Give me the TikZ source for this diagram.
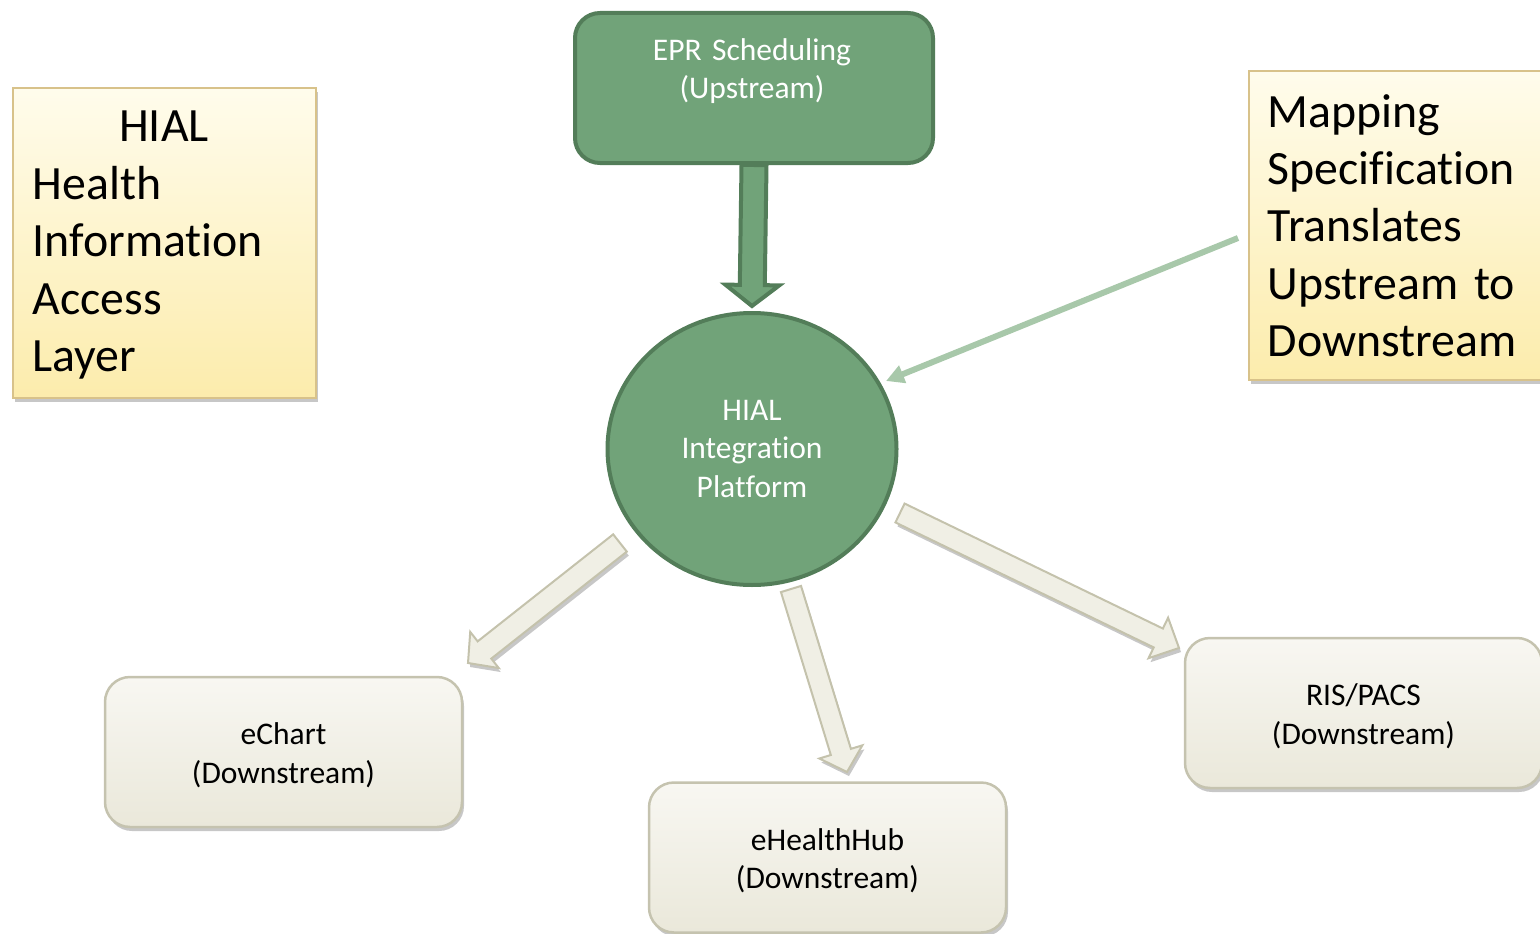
\documentclass[tikz,border=0pt]{standalone}
\usepackage{fontspec}
\setmainfont{Carlito}[Ligatures=NoCommon]
\usetikzlibrary{calc,shadows,arrows.meta,shapes.geometric}
\definecolor{hubfill}{RGB}{113,163,121}
\definecolor{hubline}{RGB}{83,125,89}
\definecolor{mapline}{RGB}{168,200,170}
\definecolor{dstop}{RGB}{248,247,242}
\definecolor{dsbot}{RGB}{234,232,218}
\definecolor{dsline}{RGB}{197,195,175}
\definecolor{notetop}{RGB}{255,252,236}
\definecolor{notebot}{RGB}{252,236,172}
\definecolor{noteline}{RGB}{216,194,138}
\definecolor{arrfill}{RGB}{240,239,229}
\definecolor{arrline}{RGB}{196,194,172}
\newcommand\myfatarrow[6]{%
  \coordinate (fah) at ($(#2)!#5!(#1)$);
  \draw[#6] ($(#1)!#3!90:(#2)$) -- ($(fah)!#3!90:(#2)$) -- ($(fah)!#4!90:(#2)$) -- (#2)
    -- ($(fah)!#4!-90:(#2)$) -- ($(fah)!#3!-90:(#2)$) -- ($(#1)!#3!-90:(#2)$) -- cycle;
}
\newcommand\toppad{\rule{0pt}{28pt}}
\tikzset{
  smallfont/.style={font=\fontsize{31.5}{38.5}\selectfont},
  bigfont/.style={font=\fontsize{47.8}{57.5}\selectfont},
  softshadow/.style={drop shadow={shadow xshift=2pt, shadow yshift=-4pt, fill=black, opacity=0.22}},
  dsbox/.style={draw=dsline, line width=2.5pt, rounded corners=25pt, top color=dstop, bottom color=dsbot,
    softshadow, minimum width=357pt, minimum height=150pt, inner sep=0pt, align=center, smallfont, text=black},
  notebox/.style={draw=noteline, line width=2pt, top color=notetop, bottom color=notebot, softshadow, inner sep=0pt},
  eprbox/.style={draw=hubline, line width=4pt, fill=hubfill, rounded corners=25pt, inner sep=0pt},
  hubnode/.style={ellipse, draw=hubline, line width=4pt, fill=hubfill, inner sep=0pt,
    minimum width=289pt, minimum height=272pt, align=center, smallfont, text=white},
  fatgreen/.style={draw=hubline, line width=4pt, fill=hubfill, line join=miter},
  fatlight/.style={draw=arrline, line width=2pt, fill=arrfill, softshadow, line join=miter},
  maparrow/.style={draw=mapline, line width=6pt, -{Triangle[length=18pt,width=18pt]}},
}
\begin{document}
\begin{tikzpicture}[x=1pt,y=-1pt]
\useasboundingbox (0,0) rectangle (1540,934);
\clip (0,0) rectangle (1540,934);
% note boxes
\node[notebox, anchor=north west, minimum width=303pt, minimum height=310pt] (hialnote) at (12,87) {};
\node[bigfont, anchor=base, inner sep=0pt] (hialtitle) at (164,141) {HIAL};
\node[bigfont, anchor=base west, text width=275pt, align=left, inner sep=0pt] (hialbody) at (32.5,199)
  {Health\\Information\\Access\\Layer};
\node[notebox, anchor=north west, minimum width=320pt, minimum height=309pt] (mapnote) at (1248,70) {};
\node[bigfont, anchor=base west, text width=285pt, align=left, inner sep=0pt] (maptext) at (1267.5,127)
  {Mapping\\Specification\\Translates\\Upstream to\\Downstream};
% upstream
\node[eprbox, anchor=north west, minimum width=358pt, minimum height=150pt] (epr) at (573,11) {};
\node[smallfont, text=white, anchor=base, text width=340pt, align=center, inner sep=0pt] (eprtext) at (752,60)
  {EPR Scheduling\\(Upstream)};
% hub
\node[hubnode] (hub) at (752,449) {HIAL\\Integration\\Platform};
% downstream boxes
\node[dsbox] (echart) at (283.5,752) {\toppad eChart\\(Downstream)};
\node[dsbox] (ehub) at (827.5,857.5) {\toppad eHealthHub\\(Downstream)};
\node[dsbox] (ris) at (1363.5,713) {\toppad RIS/PACS\\(Downstream)};
% connector ends
\coordinate (tipepr) at (752,306);
\coordinate (s1) at (620,543);
\coordinate (e1) at (468,663);
\coordinate (s2) at (791,589);
\coordinate (e2) at (847,772);
\coordinate (s3) at (900,513);
\coordinate (e3) at (1179,648);
\coordinate (ms) at (1238,238);
\coordinate (me) at (886,381);
% connectors
\myfatarrow{epr.south}{tipepr}{12.5pt}{27pt}{21pt}{fatgreen}
\myfatarrow{s1}{e1}{11pt}{23pt}{21pt}{fatlight}
\myfatarrow{s2}{e2}{10.5pt}{22.5pt}{21pt}{fatlight}
\myfatarrow{s3}{e3}{10.5pt}{22.5pt}{23pt}{fatlight}
\draw[maparrow] (ms) -- (me);
\end{tikzpicture}
\end{document}
